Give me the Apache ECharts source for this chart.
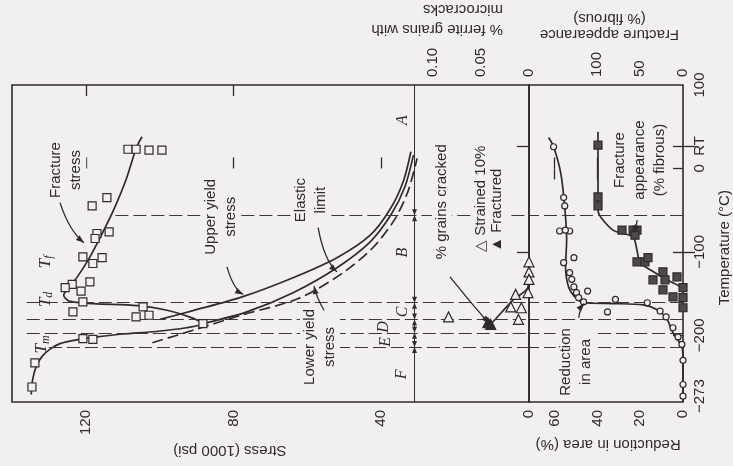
<!DOCTYPE html>
<html><head><meta charset="utf-8">
<script src="https://cdn.jsdelivr.net/npm/echarts@6/dist/echarts.min.js"></script>
<style>html,body{margin:0;padding:0;background:#f1eff2}#c{width:733px;height:466px}</style>
</head><body><div id="c"></div>
<script>
// ---- tick values / labels ----
const tempTickValues = [100, 27, 0, -100, -200, -273];
const tempTickLabels = {'100':'100','27':'RT','0':'0','-100':'\u2212100','-200':'\u2212200','-273':'\u2212273'};
const stressLabelValues = [120, 80, 40, 0];
const stressTickValues = [120, 80, 40];
const reductionLabelValues = [60, 40, 20, 0];
const reductionTickValues = [60, 40, 20];
const fibrousLabelValues = [100, 50, 0];
const fibrousTickValues = [150, 100, 50];
const microLabelValues = [0.10, 0.05, 0];
const microTickValues = [0.10, 0.05];
// region boundaries (°C) and the stress where each dashed line starts
const regionBounds = [-56, -161, -181, -197, -214];
const regionLineStart = [112, 136, 136, 136, 130];

// ---- data: [value, temperature °C] ----
const fractureStressCurve = [[104.8,38],[106.3,25],[109,-12],[112.5,-50],[115.8,-80],[119,-107],[122.3,-130],[124.8,-144],[126,-152],[124.5,-159],[118,-162],[106,-164.5],[98,-170],[92,-178],[88.3,-186],[92.8,-191],[101,-195.5],[110,-198.5],[117,-202],[122.5,-205.5],[127,-210],[129.5,-216],[131.8,-225],[133.4,-237],[134.4,-253],[134.8,-271]];
const fractureStressPts = [[108.6,23],[106.4,23],[102.9,22],[99.4,22],[114.3,-35],[118.3,-45],[113.7,-76],[117,-78],[117.5,-84],[115.6,-107],[120.8,-106],[118.1,-114],[118.9,-136],[123.7,-139],[125.6,-143],[121.3,-147],[120.8,-160],[123.5,-172],[104.5,-166],[106.4,-178],[102.9,-176],[88.3,-186],[120.8,-204],[118.1,-205],[133.8,-233],[134.6,-262]];
const upperYieldCurve = [[99.9,-181],[91,-170.5],[77.7,-154],[63.9,-131],[52,-107],[43,-80],[37.5,-48],[34,-15],[32,20]];
const elasticLimitCurve = [[88.3,-186],[76.4,-172],[63.9,-149],[52,-119],[43,-88],[37.3,-55],[33.6,-22],[31.3,16]];
const lowerYieldCurve = [[102,-209],[91,-194],[78,-176],[62.5,-156],[51,-127],[42.5,-96],[36.5,-62],[32.8,-28],[30.3,12]];
const grainsCrackedCurve = [[0,-110],[0.001,-142],[0.016,-157],[0.029,-173],[0.04,-187]];
const strainedPts = [[0,-112],[0,-124],[0,-133],[0.001,-149],[0.014,-151],[0.019,-166],[0.008,-167],[0.011,-181],[0.084,-178]];
const fracturedPts = [[0.04,-187],[0.043,-185]];
const reductionCurve = [[62.8,37],[60.5,26],[57.2,-5],[55.3,-46],[54.4,-86],[54.9,-118],[53.5,-142],[50.2,-155],[46.5,-161],[32.6,-162],[18.6,-163.5],[12.1,-169.5],[7.4,-181],[4.7,-197],[0.5,-214],[0,-230],[0,-280]];
const reductionPts = [[60.5,26],[55.8,-35],[55.3,-45],[57.7,-75],[53,-75],[55,-74],[55.8,-113],[51,-107],[53,-125],[52,-133],[51,-142],[49.8,-149],[48.8,-155],[46.5,-160],[44.6,-147],[31.6,-157],[35.3,-172],[16.7,-161],[10.7,-171],[7.9,-178],[4.7,-191],[2.3,-202],[0.5,-211],[0,-230],[0,-259],[0,-273]];
const fibrousCurve = [[98.8,44],[98.8,-50],[81.4,-74],[58.1,-82],[53.5,-98],[50,-113],[37.2,-122],[18.6,-133.5],[1.2,-143],[0,-146]];
const fibrousPts = [[98.8,28],[98.8,-34],[98.8,-45],[70.9,-74],[58,-74],[53.5,-74],[55.8,-80],[53.5,-112],[44.2,-112],[40.7,-107],[23.3,-124],[34.9,-133.5],[20.9,-133.5],[23.3,-145.5],[7,-130],[11.6,-154],[0,-143],[0,-155],[0,-167]];

const ink = '#2e2a2d';
const bg = '#f1eff2';
const font = '"Liberation Sans", Arial, sans-serif';
const serif = '"Liberation Serif", "DejaVu Serif", serif';

const chart = echarts.init(document.getElementById('c'));

function tickAxis(extra) {
  return Object.assign({type:'value', splitLine:{show:false}, axisLine:{show:false}}, extra);
}
const lbl = (vals, fmt) => ({customValues: vals, rotate: 90, margin: 8, fontSize: 15, color: ink, fontFamily: font, formatter: fmt});
const tick = (vals, len) => ({show:true, inside:true, length: len || 11, customValues: vals, lineStyle:{color: ink, width: 1.3}});

const lineS = (name, data, xi, yi, extra) => Object.assign({name, type:'line', data, xAxisIndex: xi, yAxisIndex: yi,
  showSymbol:false, smooth:0.3, lineStyle:{color: ink, width: 1.7}, z: 3, silent:true}, extra || {});
const pts = (name, data, xi, yi, symbol, size, fill, extra) => Object.assign({name, type:'scatter', data, xAxisIndex: xi, yAxisIndex: yi,
  symbol, symbolSize: size, itemStyle:{color: fill, borderColor: ink, borderWidth: 1.2, opacity: 1}, z: 5, silent:true}, extra || {});

const dash = {color:'#3a3639', width:1, type:[13,5]};
const stressRegionLines = {silent:true, symbol:'none', label:{show:false}, lineStyle: dash,
  data: regionBounds.map((t, i) => [{coord:[regionLineStart[i], t]}, {coord:[0, t]}])};
const reductionRegionLines = {silent:true, symbol:'none', label:{show:false}, lineStyle: dash,
  data: regionBounds.map(t => ({yAxis: t}))};

const option = {
  backgroundColor: bg,
  animation: false,
  grid: [
    {left: 12, right: 204, top: 85, bottom: 64, show: true, borderColor: ink, borderWidth: 1.6, backgroundColor: 'transparent'},
    {left: 529, right: 50, top: 85, bottom: 64, show: true, borderColor: ink, borderWidth: 1.6, backgroundColor: 'transparent'}
  ],
  xAxis: [
    tickAxis({gridIndex:0, position:'bottom', inverse:true, min:0, max:140, axisTick: tick(stressTickValues), axisLabel: lbl(stressLabelValues)}),
    tickAxis({gridIndex:0, position:'top', inverse:true, min:0, max:0.54, axisTick: tick(microTickValues),
      axisLabel: lbl(microLabelValues, v => v === 0 ? '0' : v.toFixed(2))}),
    tickAxis({gridIndex:0, position:'top', inverse:true, min:0, max:140, axisTick: tick([120, 80]), axisLabel:{show:false}}),
    tickAxis({gridIndex:1, position:'bottom', inverse:true, min:0, max:72, axisTick: tick(reductionTickValues), axisLabel: lbl(reductionLabelValues)}),
    tickAxis({gridIndex:1, position:'top', inverse:true, min:0, max:179, axisTick: tick(fibrousTickValues), axisLabel: lbl(fibrousLabelValues)})
  ],
  yAxis: [
    tickAxis({gridIndex:0, position:'left', min:-280, max:100, axisTick:{show:false}, axisLabel:{show:false}}),
    tickAxis({gridIndex:1, position:'right', min:-280, max:100, axisTick: tick([27, 0, -100, -200], 10),
      axisLabel: Object.assign(lbl(tempTickValues, v => tempTickLabels[String(v)]), {margin: 9})}),
    tickAxis({gridIndex:0, position:'right', min:-280, max:100, axisTick: tick([27, -100], 12), axisLabel:{show:false}}),
    tickAxis({gridIndex:1, position:'left', min:-280, max:100, axisTick: tick([27, -100], 12), axisLabel:{show:false}})
  ],
  series: [
    lineS('Fracture stress', fractureStressCurve, 0, 0, {markLine: stressRegionLines}),
    lineS('Upper yield stress', upperYieldCurve, 0, 0),
    lineS('Elastic limit', elasticLimitCurve, 0, 0),
    lineS('Lower yield stress', lowerYieldCurve, 0, 0, {lineStyle:{color: ink, width: 1.7, type:[11,5]}}),
    pts('Fracture stress data', fractureStressPts, 0, 0, 'rect', 8, bg),
    lineS('% grains cracked', grainsCrackedCurve, 1, 0),
    pts('Strained 10%', strainedPts, 1, 0, 'triangle', 10, bg),
    pts('Fractured', fracturedPts, 1, 0, 'triangle', 10, ink),
    lineS('Reduction in area', reductionCurve, 3, 1, {markLine: reductionRegionLines, smooth: 0.25}),
    pts('Reduction in area data', reductionPts, 3, 1, 'circle', 6, bg),
    lineS('Fracture appearance', fibrousCurve, 4, 1, {smooth: 0.25}),
    pts('Fracture appearance data', fibrousPts, 4, 1, 'rect', 8, '#4d484b')
  ]
};
chart.setOption(option);

// ---- annotations, anchored in data coordinates ----
const P0 = (s, t) => chart.convertToPixel({xAxisIndex:0, yAxisIndex:0}, [s, t]);
const P1 = (r, t) => chart.convertToPixel({xAxisIndex:3, yAxisIndex:1}, [r, t]);
const g = [];
function txt(p, text, rot, extra) {
  g.push({type:'text', x: p[0], y: p[1], rotation: rot, z: 20, silent:true,
    style: Object.assign({text, fill: ink, font: '15px ' + font, align:'center', verticalAlign:'middle', lineHeight: 20,
      backgroundColor: bg, padding:[0,3]}, extra || {})});
}
function arrow(p0, pc, p1) {
  const ang = Math.atan2(p1[1]-pc[1], p1[0]-pc[0]);
  const L = 8, W = 3;
  const bx = p1[0]-L*Math.cos(ang), by = p1[1]-L*Math.sin(ang);
  const nx = -Math.sin(ang)*W, ny = Math.cos(ang)*W;
  g.push({type:'bezierCurve', z: 21, silent:true, shape:{x1:p0[0], y1:p0[1], x2:p1[0], y2:p1[1], cpx1:pc[0], cpy1:pc[1]},
    style:{stroke: ink, lineWidth: 1.3, fill: null}});
  g.push({type:'polygon', z: 21, silent:true, shape:{points:[[p1[0],p1[1]],[bx+nx,by+ny],[bx-nx,by-ny]]}, style:{fill: ink}});
}
const UP = Math.PI/2, FLIP = Math.PI;

txt(P0(125.3, -2), 'Fracture\nstress', UP);
arrow(P0(127, -41), P0(124.5, -75), P0(120.5, -89));
txt(P0(83.5, -58), 'Upper yield\nstress', UP);
arrow(P0(81.8, -118), P0(80, -145), P0(77.4, -151));
txt(P0(59, -38), 'Elastic\nlimit', UP);
arrow(P0(57.1, -71), P0(55.5, -110), P0(52, -124));
txt(P0(56.6, -214), 'Lower yield\nstress', UP);
arrow(P0(55.5, -170), P0(57.5, -155), P0(58.2, -141));
txt(P0(23.6, -40), '% grains cracked', UP);
arrow(P0(21.4, -130), P0(16, -160), P0(10.8, -186));
txt(P0(13, -103.6), '\u25B3 Strained 10%', UP, {align:'left'});
txt(P0(8.7, -103.6), '\u25B2 Fractured', UP, {align:'left'});
txt(P1(50.2, -232), 'Reduction\nin area', UP);
arrow(P1(48.8, -179), P1(48, -167), P1(46.2, -162));
txt(P1(20, 10), 'Fracture\nappearance\n(% fibrous)', UP);
arrow(P1(21.4, -62), P1(21.6, -70), P1(23.3, -77));

// region letters and arrows
const regionLetterPos = [[34.1, 58, 'A'], [34.1, -101, 'B'], [34.1, -172, 'C'], [39.3, -190, 'D'], [38.7, -208, 'E'], [34.4, -247, 'F']];
regionLetterPos.forEach(([s, t, L]) => txt(P0(s, t), L, UP, {font: 'italic 16px ' + serif, backgroundColor: null, padding: 0}));
const regionEdges = [100, -56, -161, -181, -197, -214, -280];
for (let i = 0; i < regionEdges.length - 1; i++) {
  const a = P0(31, regionEdges[i]), b = P0(31, regionEdges[i+1]);
  g.push({type:'line', z: 4, silent:true, shape:{x1:a[0], y1:a[1], x2:b[0], y2:b[1]}, style:{stroke: ink, lineWidth: 1}});
  [[a, 1], [b, -1]].forEach(([p, d]) => {
    if (Math.abs(p[1] - P0(0, 100)[1]) < 1 || Math.abs(p[1] - P0(0, -280)[1]) < 1) return;
    g.push({type:'polygon', z: 4, silent:true, shape:{points:[[p[0], p[1]], [p[0]-2.5, p[1]+6*d], [p[0]+2.5, p[1]+6*d]]}, style:{fill: ink}});
  });
}

// T_f, T_d, T_m
[[131, -112, 'f'], [131, -157, 'd'], [132, -211, 'm']].forEach(([s, t, sub]) => {
  const p = P0(s, t);
  g.push({type:'text', x: p[0], y: p[1], rotation: UP, z: 20, silent:true,
    style:{text: '{a|T}{b|' + sub + '}', align:'center', verticalAlign:'middle', fill: ink,
      rich:{a:{font: 'italic 17px ' + serif, fill: ink}, b:{font: 'italic 12px ' + serif, fill: ink, padding:[8,0,0,0]}}}});
});

// axis titles
txt(P0(81, -280).map((v, i) => i ? v + 48 : v), 'Stress (1000 psi)', FLIP, {backgroundColor: null});
txt(P1(35, -280).map((v, i) => i ? v + 42 : v), 'Reduction in area (%)', FLIP, {backgroundColor: null});
const top0 = P0(0, 100);
g.push({type:'text', x: top0[0] - 26, y: top0[1] - 56, rotation: FLIP, silent:true,
  style:{text:'% ferrite grains with', fill: ink, font:'15px ' + font, align:'left', verticalAlign:'middle'}});
g.push({type:'text', x: top0[0] - 26, y: top0[1] - 76, rotation: FLIP, silent:true,
  style:{text:'microcracks', fill: ink, font:'15px ' + font, align:'left', verticalAlign:'middle'}});
txt(P1(34.4, 100).map((v, i) => i ? v - 51 : v), 'Fracture appearance', FLIP, {backgroundColor: null});
txt(P1(34.4, 100).map((v, i) => i ? v - 67 : v), '(% fibrous)', FLIP, {backgroundColor: null});
const rt = P1(0, -95);
txt([rt[0] + 42, rt[1]], 'Temperature (\u00B0C)', UP, {backgroundColor: null});

chart.setOption({graphic: g});
</script>
</body></html>
